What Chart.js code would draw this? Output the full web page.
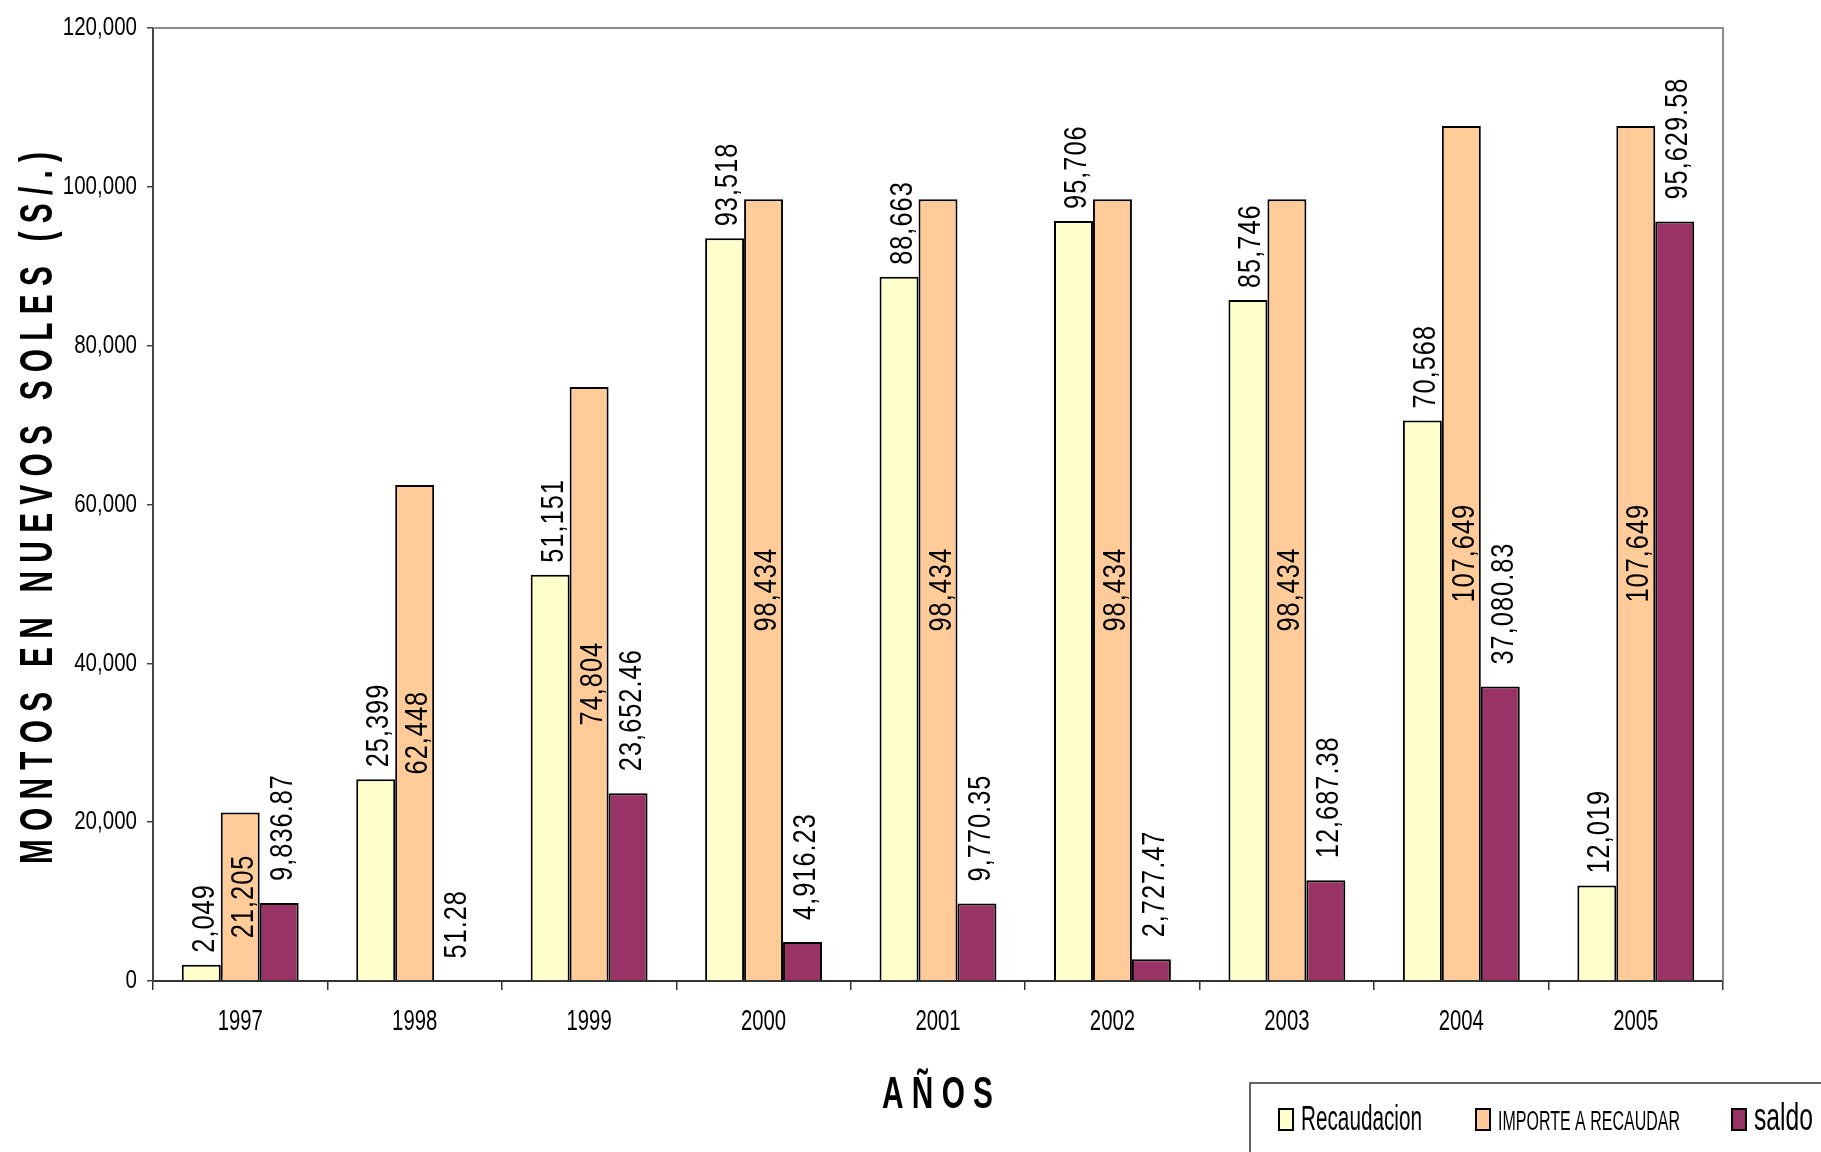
<!DOCTYPE html>
<html>
<head>
<meta charset="utf-8">
<title>Recaudacion</title>
<script src="https://cdn.jsdelivr.net/npm/chart.js@4.4.0/dist/chart.umd.min.js"></script>
<style>
  html, body { margin: 0; padding: 0; background: #fff; }
  #wrap { width: 1821px; height: 1152px; }
</style>
</head>
<body>
<div id="wrap"><canvas id="chart" width="1821" height="1152"></canvas></div>
<script>
var years = ['1997', '1998', '1999', '2000', '2001', '2002', '2003', '2004', '2005'];
var recaudacion = [2049, 25399, 51151, 93518, 88663, 95706, 85746, 70568, 12019];
var importe = [21205, 62448, 74804, 98434, 98434, 98434, 98434, 107649, 107649];
var saldo = [9836.87, 51.28, 23652.46, 4916.23, 9770.35, 2727.47, 12687.38, 37080.83, 95629.58];
var yTicks = [0, 20000, 40000, 60000, 80000, 100000, 120000];

var SANS = '"Liberation Sans", Arial, sans-serif';

function fmtInt(v) { return v.toLocaleString('en-US', {maximumFractionDigits: 0}); }
function fmtDec(v) { return v.toLocaleString('en-US', {minimumFractionDigits: 2, maximumFractionDigits: 2}); }

// Arial drawn squeezed sideways, like Arial Narrow
function narrowText(ctx, text, x, y, size, sx, align, angle, spacing) {
	ctx.save();
	ctx.font = size + 'px ' + SANS;
	if ('letterSpacing' in ctx) ctx.letterSpacing = (spacing || 0) + 'px';
	ctx.textAlign = align;
	ctx.textBaseline = 'middle';
	ctx.fillStyle = '#000';
	ctx.translate(x, y);
	ctx.rotate(angle || 0);
	ctx.scale(sx, 1);
	ctx.fillText(text, 0, 0);
	ctx.restore();
}

// text stretched so it fills a given length and cap height
function fittedText(ctx, text, x, y, len, cap, font, angle) {
	ctx.save();
	ctx.font = font;
	ctx.textAlign = 'left';
	ctx.textBaseline = 'alphabetic';
	var m = ctx.measureText(text);
	var asc = ctx.measureText('H').actualBoundingBoxAscent;
	ctx.translate(x, y);
	ctx.rotate(angle || 0);
	ctx.scale(len / m.width, cap / asc);
	ctx.fillStyle = '#000';
	ctx.fillText(text, 0, 0);
	ctx.restore();
}

var extras = {
	id: 'extras',
	afterDatasetsDraw: function (chart) {
		var ctx = chart.ctx;
		var area = chart.chartArea;
		var xs = chart.scales.x, ys = chart.scales.y;

		// grey frame on top and right
		ctx.save();
		ctx.strokeStyle = '#8c8c8c';
		ctx.lineWidth = 2;
		ctx.beginPath();
		ctx.moveTo(area.left, area.top);
		ctx.lineTo(area.right, area.top);
		ctx.lineTo(area.right, area.bottom);
		ctx.stroke();
		ctx.restore();

		// tick labels
		yTicks.forEach(function (v) {
			narrowText(ctx, fmtInt(v), area.left - 16, ys.getPixelForValue(v), 26, 0.79, 'right', 0, 0);
		});
		years.forEach(function (yr, i) {
			narrowText(ctx, yr, xs.getPixelForValue(i), area.bottom + 41, 29, 0.7, 'center', 0, 0);
		});

		// value labels, rotated
		chart.data.datasets.forEach(function (ds, i) {
			var meta = chart.getDatasetMeta(i);
			meta.data.forEach(function (bar, j) {
				var v = ds.data[j];
				var txt = i == 2 ? fmtDec(v) : fmtInt(v);
				if (i == 1) {
					narrowText(ctx, txt, bar.x + 4, (bar.y + bar.base) / 2, 31, 0.82, 'center', -Math.PI / 2, 1.2);
				} else {
					narrowText(ctx, txt, bar.x + 4, bar.y - (i == 0 ? 12 : 22), 31, 0.82, 'left', -Math.PI / 2, 1.2);
				}
			});
		});

		// axis titles
		fittedText(ctx, 'M O N T O S   E N   N U E V O S   S O L E S   ( S / . )', 52, 864, 712, 31, 'bold 30px ' + SANS, -Math.PI / 2);
		fittedText(ctx, 'A Ñ O S', 882, 1108, 111, 30, 'bold 30px ' + SANS, 0);

		// legend box
		ctx.save();
		ctx.strokeStyle = '#333';
		ctx.lineWidth = 1.5;
		ctx.strokeRect(1250, 1083, 620, 120);
		var marks = [1279, 1476, 1732];
		var texts = [
			[1301, 121, 23.5],
			[1498, 182, 18],
			[1754, 59, 28]
		];
		chart.data.datasets.forEach(function (ds, i) {
			ctx.fillStyle = ds.backgroundColor;
			ctx.fillRect(marks[i], 1109, 14, 21);
			ctx.strokeStyle = '#000';
			ctx.lineWidth = 2;
			ctx.strokeRect(marks[i], 1109, 14, 21);
			var t = texts[i];
			var cap = t[2];
			if (i == 2) {
				// "saldo" is sized by its ascender
				ctx.font = '30px ' + SANS;
				var asc = ctx.measureText('l').actualBoundingBoxAscent;
				var capH = ctx.measureText('H').actualBoundingBoxAscent;
				cap = t[2] * capH / asc;
			}
			fittedText(ctx, ds.label, t[0], 1130, t[1], cap, '30px ' + SANS, 0);
		});
		ctx.restore();
	}
};

var el = document.getElementById('chart');
var chart = new Chart(el, {
	type: 'bar',
	data: {
		labels: years,
		datasets: [{
			label: 'Recaudacion',
			data: recaudacion,
			backgroundColor: '#FFFFCC',
			borderColor: '#000',
			borderWidth: 2
		}, {
			label: 'IMPORTE A RECAUDAR',
			data: importe,
			backgroundColor: '#FFCC99',
			borderColor: '#000',
			borderWidth: 2
		}, {
			label: 'saldo',
			data: saldo,
			backgroundColor: '#993366',
			borderColor: '#000',
			borderWidth: 2
		}]
	},
	options: {
		responsive: false,
		animation: false,
		layout: { padding: { left: 0, right: 98, top: 28, bottom: 0 } },
		datasets: { bar: { barPercentage: 1, categoryPercentage: 0.67 } },
		plugins: { legend: { display: false }, tooltip: { enabled: false } },
		scales: {
			x: {
				grid: { offset: true, drawOnChartArea: false, tickLength: 9, color: '#333', lineWidth: 1.5 },
				border: { color: '#333', width: 2 },
				ticks: { display: false },
				afterFit: function (scale) { scale.height = 171; }
			},
			y: {
				min: 0,
				max: 120000,
				afterBuildTicks: function (scale) {
					scale.ticks = yTicks.map(function (v) { return { value: v }; });
				},
				grid: { drawOnChartArea: false, tickLength: 6, color: '#444', lineWidth: 1.5 },
				border: { color: '#444', width: 2 },
				ticks: { display: false },
				afterFit: function (scale) { scale.width = 153; }
			}
		}
	},
	plugins: [extras]
});
</script>
</body>
</html>
